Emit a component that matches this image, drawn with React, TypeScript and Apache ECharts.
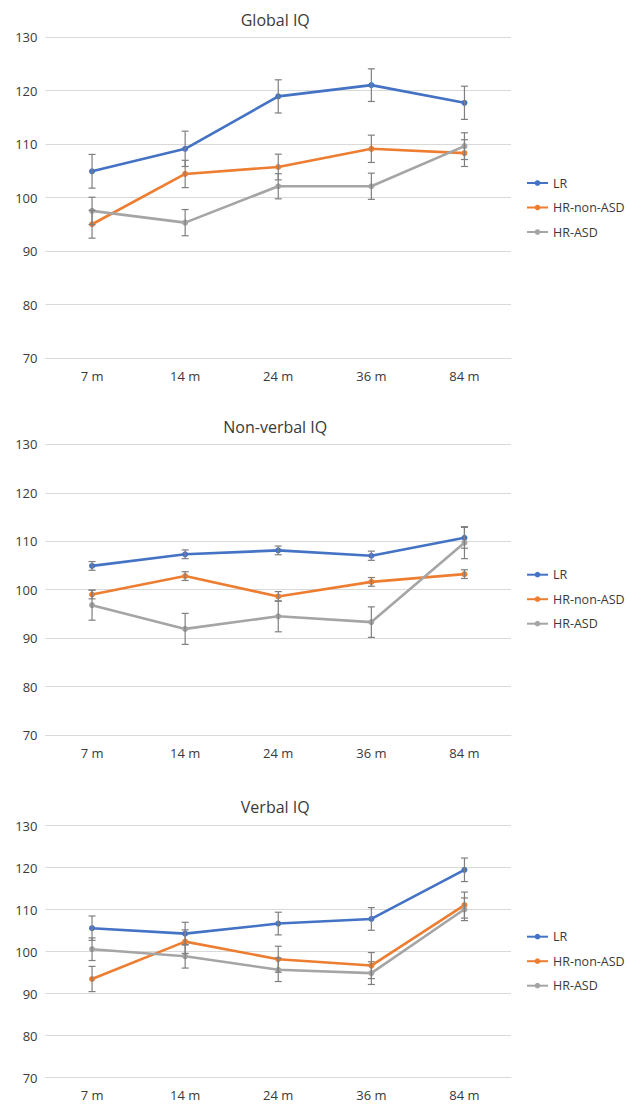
import React, { useEffect, useRef } from 'react';
import * as echarts from 'echarts';

const categories = ['7 m', '14 m', '24 m', '36 m', '84 m'];
const seriesNames = ['LR', 'HR-non-ASD', 'HR-ASD'];
const panelTitles = ['Global IQ', 'Non-verbal IQ', 'Verbal IQ'];

// Global IQ
const globalLR = [104.9, 109.1, 118.9, 121.0, 117.7];
const globalLRErr = [3.15, 3.3, 3.1, 3.05, 3.1];
const globalHRnon = [95.0, 104.4, 105.7, 109.1, 108.3];
const globalHRnonErr = [2.6, 2.55, 2.4, 2.55, 2.5];
const globalHRasd = [97.5, 95.3, 102.1, 102.1, 109.6];
const globalHRasdErr = [2.55, 2.45, 2.35, 2.45, 2.5];

// Non-verbal IQ
const nonverbalLR = [104.9, 107.3, 108.1, 107.0, 110.7];
const nonverbalLRErr = [0.9, 0.9, 0.9, 0.95, 2.15];
const nonverbalHRnon = [99.0, 102.8, 98.6, 101.6, 103.2];
const nonverbalHRnonErr = [0.9, 0.9, 1.0, 0.9, 0.9];
const nonverbalHRasd = [96.8, 91.9, 94.5, 93.3, 109.7];
const nonverbalHRasdErr = [3.1, 3.2, 3.2, 3.15, 3.3];

// Verbal IQ
const verbalLR = [105.6, 104.3, 106.7, 107.8, 119.5];
const verbalLRErr = [2.9, 2.7, 2.7, 2.7, 2.8];
const verbalHRnon = [93.5, 102.4, 98.2, 96.7, 111.1];
const verbalHRnonErr = [3.0, 2.8, 3.1, 3.1, 3.1];
const verbalHRasd = [100.6, 98.9, 95.7, 94.9, 110.1];
const verbalHRasdErr = [2.7, 2.8, 2.8, 2.7, 2.7];

const yMin = 70;
const yMax = 130;
const yInterval = 10;

const panels = [
  { values: [globalLR, globalHRnon, globalHRasd], errors: [globalLRErr, globalHRnonErr, globalHRasdErr] },
  { values: [nonverbalLR, nonverbalHRnon, nonverbalHRasd], errors: [nonverbalLRErr, nonverbalHRnonErr, nonverbalHRasdErr] },
  { values: [verbalLR, verbalHRnon, verbalHRasd], errors: [verbalLRErr, verbalHRnonErr, verbalHRasdErr] },
];

const colors = ['#4472C4', '#ED7D31', '#A5A5A5'];
const FONT = '"Open Sans", "Liberation Sans", sans-serif';
const TEXT = '#3a3a3a';

const layout = [
  { top: 37, height: 321, titleY: 20, legendTop: 175 },
  { top: 444.3, height: 290.7, titleY: 427.3, legendTop: 566.7 },
  { top: 825.7, height: 252, titleY: 806.7, legendTop: 928.7 },
];
const GRID_LEFT = 45.5;
const GRID_WIDTH = 465.5;

export default function App() {
  const ref = useRef<HTMLDivElement>(null);
  useEffect(() => {
    if (!ref.current) return;
    const chart = echarts.init(ref.current, null, { renderer: 'svg' });

    const grid: any[] = [];
    const xAxis: any[] = [];
    const yAxis: any[] = [];
    const legend: any[] = [];
    const series: any[] = [];
    const graphic: any[] = [];

    panels.forEach((p, pi) => {
      const L = layout[pi];
      grid.push({ left: GRID_LEFT, width: GRID_WIDTH, top: L.top, height: L.height });
      xAxis.push({
        type: 'category',
        gridIndex: pi,
        data: categories,
        boundaryGap: true,
        axisTick: { show: false },
        axisLine: { lineStyle: { color: '#d9d9d9', width: 1 } },
        axisLabel: { color: TEXT, fontSize: 13, fontFamily: FONT, margin: 11 },
      });
      yAxis.push({
        type: 'value',
        gridIndex: pi,
        min: yMin,
        max: yMax,
        interval: yInterval,
        axisLine: { show: false },
        axisTick: { show: false },
        splitLine: { lineStyle: { color: '#d9d9d9', width: 1 } },
        axisLabel: { color: TEXT, fontSize: 13, fontFamily: FONT, margin: 8 },
      });
      legend.push({
        orient: 'vertical',
        left: 526,
        top: L.legendTop,
        padding: 0,
        itemWidth: 21,
        itemHeight: 7,
        itemGap: 8.5,
        data: seriesNames,
        textStyle: { color: TEXT, fontSize: 12.5, lineHeight: 16, fontFamily: FONT },
      });
      graphic.push({
        type: 'text',
        x: GRID_LEFT + GRID_WIDTH / 2 - 3,
        y: L.titleY,
        style: {
          text: panelTitles[pi],
          textAlign: 'center',
          textVerticalAlign: 'middle',
          fill: TEXT,
          fontSize: 16,
          fontFamily: FONT,
        },
      });
      p.values.forEach((vals, si) => {
        series.push({
          type: 'line',
          name: seriesNames[si],
          xAxisIndex: pi,
          yAxisIndex: pi,
          data: vals,
          symbol: 'circle',
          symbolSize: 6,
          lineStyle: { width: 2.6, color: colors[si] },
          itemStyle: { color: colors[si] },
          z: 2,
        });
      });
      p.values.forEach((vals, si) => {
        const errs = p.errors[si];
        series.push({
          type: 'custom',
          name: 'err-' + pi + '-' + si,
          xAxisIndex: pi,
          yAxisIndex: pi,
          z: 3,
          encode: { x: 0, y: [1, 2] },
          data: vals.map((v, i) => [i, v - errs[i], v + errs[i]]),
          renderItem: (params: any, api: any) => {
            const xi = api.value(0);
            const lo = api.coord([xi, api.value(1)]);
            const hi = api.coord([xi, api.value(2)]);
            const w = 3.5;
            const st = { stroke: '#7f7f7f', lineWidth: 1.2 };
            return {
              type: 'group',
              children: [
                { type: 'line', shape: { x1: lo[0], y1: lo[1], x2: hi[0], y2: hi[1] }, style: st },
                { type: 'line', shape: { x1: lo[0] - w, y1: lo[1], x2: lo[0] + w, y2: lo[1] }, style: st },
                { type: 'line', shape: { x1: hi[0] - w, y1: hi[1], x2: hi[0] + w, y2: hi[1] }, style: st },
              ],
            };
          },
        });
      });
    });

    chart.setOption({
      animation: false,
      backgroundColor: '#ffffff',
      grid,
      xAxis,
      yAxis,
      legend,
      series,
      graphic,
    });
    return () => chart.dispose();
  }, []);

  return (
    <div
      ref={ref}
      style={{ position: 'fixed', left: 0, top: 0, width: 629, height: 1105, background: '#fff' }}
    />
  );
}
